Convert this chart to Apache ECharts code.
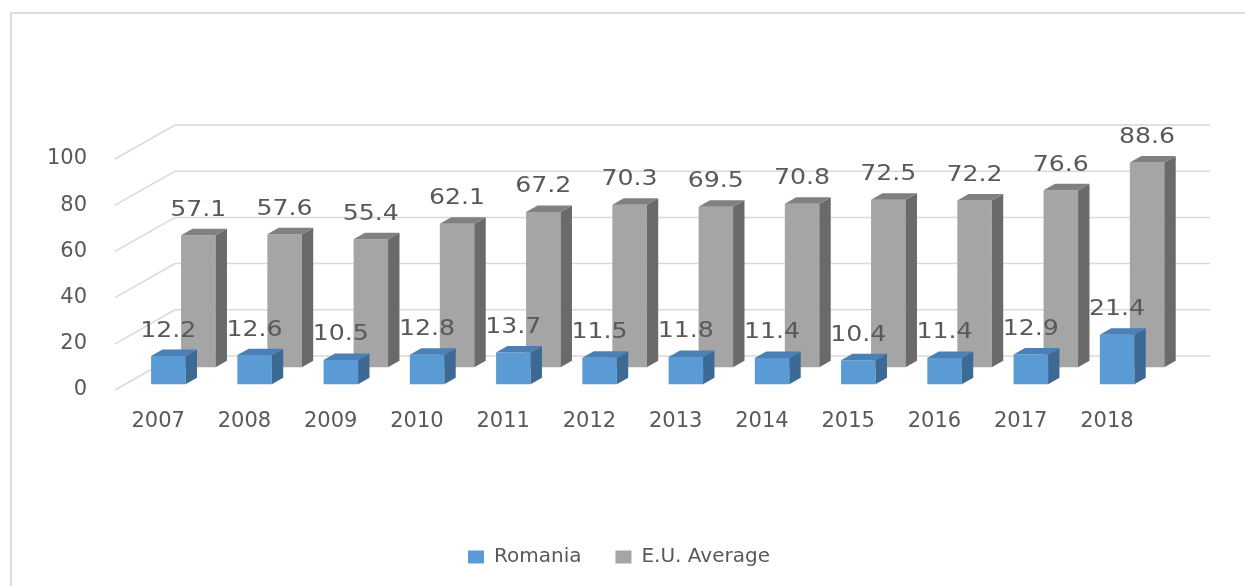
<!DOCTYPE html>
<html>
<head>
<meta charset="utf-8">
<script src="https://cdn.jsdelivr.net/npm/echarts@6/dist/echarts.min.js"></script>
<style>
  html, body { margin: 0; padding: 0; background: #fff; }
  #frame { position: absolute; left: 10px; top: 12px; width: 1300px; height: 700px; border: 2px solid #dcdcdc; }
  #chart { position: absolute; left: 0; top: 0; width: 1245px; height: 586px; }
</style>
</head>
<body>
<div id="frame"></div>
<div id="chart"></div>
<script>
// data
const years = ['2007', '2008', '2009', '2010', '2011', '2012', '2013', '2014', '2015', '2016', '2017', '2018'];
const romania = [12.2, 12.6, 10.5, 12.8, 13.7, 11.5, 11.8, 11.4, 10.4, 11.4, 12.9, 21.4];
const euAverage = [57.1, 57.6, 55.4, 62.1, 67.2, 70.3, 69.5, 70.8, 72.5, 72.2, 76.6, 88.6];
const yTicks = [0, 20, 40, 60, 80, 100];

// 3d look: full floor depth in pixels
const DX = 60, DY = -34;
const THICK = 0.19;
const FONT = 'DejaVu Sans';
const TXT = '#595959';

const myChart = echarts.init(document.getElementById('chart'));

// walls: back gridlines + diagonals to the front axis
const renderGrid = (params, api) => {
  const cs = params.coordSys;
  const p = api.coord([0, api.value(1)]);
  const y = p[1];
  return {
    type: 'polyline',
    shape: { points: [[cs.x, y], [cs.x + DX, y + DY], [cs.x + cs.width + DX, y + DY]] },
    style: { stroke: '#d9d9d9', lineWidth: 1.5, fill: null },
    silent: true
  };
};

const makeBar = (depth, c) => (params, api) => {
  const cat = api.value(0), v = api.value(1);
  const base = api.coord([cat, 0]);
  const top = api.coord([cat, v]);
  const w = api.size([1, 0])[0] * 0.4;
  const ox = DX * depth, oy = DY * depth;
  const x0 = base[0] - w / 2 + ox, x1 = x0 + w;
  const yb = base[1] + oy, yt = top[1] + oy;
  const tx = DX * THICK, ty = DY * THICK;
  return {
    type: 'group',
    children: [
      { type: 'polygon', shape: { points: [[x0, yb], [x1, yb], [x1, yt], [x0, yt]] }, style: { fill: c[0] } },
      { type: 'polygon', shape: { points: [[x1, yb], [x1 + tx, yb + ty], [x1 + tx, yt + ty], [x1, yt]] }, style: { fill: c[1] } },
      { type: 'polygon', shape: { points: [[x0, yt], [x1, yt], [x1 + tx, yt + ty], [x0 + tx, yt + ty]] }, style: { fill: c[2] } },
      {
        // labels in the original are stretched wide
        type: 'text', x: (x0 + x1) / 2, y: yt + ty - 8, z2: 10, scaleX: 1.2,
        style: { text: v.toFixed(1), align: 'center', verticalAlign: 'bottom', fill: TXT, font: '21px "' + FONT + '"' }
      }
    ]
  };
};

const renderChart = () => {
  const options = {
    animation: false,
    legend: {
      data: ['Romania', 'E.U. Average'],
      left: 463,
      top: 542,
      icon: 'rect',
      itemWidth: 16,
      itemHeight: 13,
      itemGap: 34,
      textStyle: { fontFamily: FONT, fontSize: 20, color: TXT, padding: [0, 0, 0, 5] }
    },
    grid: { left: 115, right: 95, top: 159, bottom: 196 },
    xAxis: {
      type: 'category',
      data: years,
      axisLine: { show: false },
      axisTick: { show: false },
      axisLabel: { margin: 21, fontFamily: FONT, fontSize: 21, color: TXT }
    },
    yAxis: {
      type: 'value',
      min: 0,
      max: 100,
      interval: 20,
      axisLine: { show: false },
      axisTick: { show: false },
      splitLine: { show: false },
      axisLabel: { margin: 28, fontFamily: FONT, fontSize: 21, color: TXT }
    },
    series: [
      {
        name: 'grid',
        type: 'custom',
        renderItem: renderGrid,
        data: yTicks.map(t => [0, t]),
        silent: true,
        z: 1
      },
      {
        name: 'E.U. Average',
        type: 'custom',
        itemStyle: { color: '#A5A5A5' },
        renderItem: makeBar(0.67, ['#A5A5A5', '#6A6A6A', '#808080']),
        data: euAverage.map((v, i) => [i, v]),
        z: 2
      },
      {
        name: 'Romania',
        type: 'custom',
        itemStyle: { color: '#5B9BD5' },
        renderItem: makeBar(0.17, ['#5B9BD5', '#3D6A95', '#4A80B5']),
        data: romania.map((v, i) => [i, v]),
        z: 3
      }
    ]
  };
  myChart.setOption(options);
};

renderChart();
</script>
</body>
</html>
